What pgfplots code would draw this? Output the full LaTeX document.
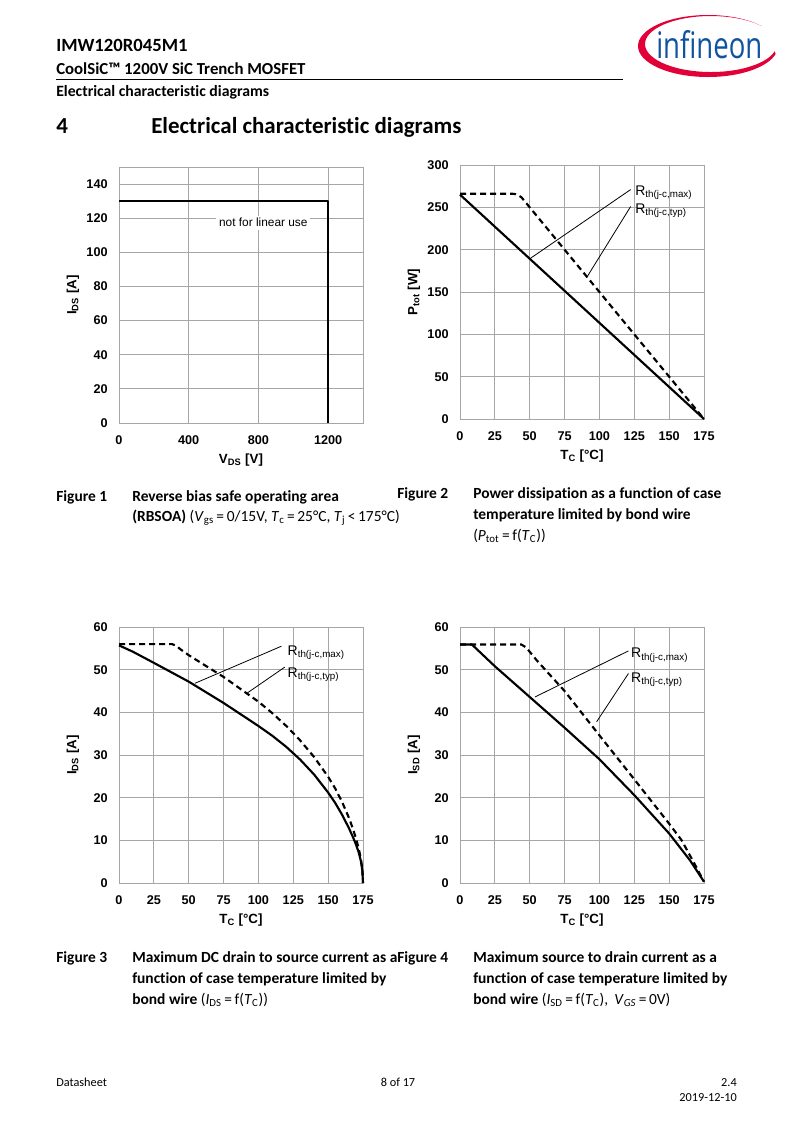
\documentclass[border=0pt]{standalone}
\usepackage{fontspec}
\usepackage{graphicx}
\usepackage{pgfplots}
\pgfplotsset{compat=1.18}
\setmainfont{Carlito}[Ligatures=CommonOff]
\newfontfamily\arial{Liberation Sans}
\newfontfamily\logofont{Open Sans}
\definecolor{gridc}{RGB}{166,166,166}
\definecolor{ifxblue}{RGB}{16,82,160}
\definecolor{ifxred}{RGB}{226,0,56}

\pgfplotsset{ds/.style={
  anchor=north west, scale only axis, width=183pt, height=192pt,
  axis line style={draw=gridc, line width=0.6pt},
  grid=major, major grid style={draw=gridc, line width=0.6pt},
  major tick length=0pt, tick style={draw=none},
  /pgf/number format/assume math mode=true,
  /pgf/number format/1000 sep={},
  ticklabel style={font=\arial\bfseries\fontsize{9.5}{11}\selectfont},
  yticklabel style={xshift=-5pt},
  xticklabel style={yshift=-6pt},
  every axis x label/.style={at={(axis description cs:0.5,0)}, anchor=center,
    yshift=-27.75pt, font=\arial\bfseries\fontsize{10}{12}\selectfont},
  every axis y label/.style={at={(axis description cs:0,0.5)}, anchor=center,
    xshift=-34.5pt, rotate=90, font=\arial\bfseries\fontsize{10}{12}\selectfont},
  clip=false,
}}
\tikzset{
  figcap/.style={anchor=base west, inner sep=0pt, font=\fontsize{11.6}{14}\selectfont},
  rth/.style={anchor=west, inner sep=0pt, font=\arial\fontsize{10.5}{12}\selectfont},
  curve/.style={black, line width=1.6pt, line join=round},
  dcurve/.style={black, line width=1.6pt, line join=round, dash pattern=on 4.5pt off 3pt},
  lead/.style={black, line width=0.6pt},
}

\begin{document}
\begin{tikzpicture}[x=0.75pt, y=-0.75pt]
\path[use as bounding box] (0,0) rectangle (793,1122);

% header
\node[anchor=base west, inner sep=0pt, font=\bfseries\fontsize{14}{16}\selectfont] at (56,51) {IMW120R045M1};
\node[anchor=base west, inner sep=0pt, font=\bfseries\fontsize{12.6}{15}\selectfont] at (56,74) {CoolSiC™ 1200V SiC Trench MOSFET};
\draw[line width=0.6pt] (56,79) -- (623,79);
\node[anchor=base west, inner sep=0pt, font=\bfseries\fontsize{11.8}{14}\selectfont] at (56,96) {Electrical characteristic diagrams};
\node[anchor=base west, inner sep=0pt, font=\bfseries\fontsize{17.2}{20}\selectfont] at (56,133) {4};
\node[anchor=base west, inner sep=0pt, font=\bfseries\fontsize{17.2}{20}\selectfont] at (151,133) {Electrical characteristic diagrams};

% logo
\fill[ifxred] ([shift={(708,46)}]320:70 and 31) arc[start angle=320, end angle=15, x radius=70, y radius=31]
  -- ([shift={(711,44)}]15:66 and 28) arc[start angle=15, end angle=320, x radius=66, y radius=28] -- cycle;
\node[anchor=base west, inner sep=0pt, text=ifxblue] at (656,58) {\resizebox{79.5pt}{21pt}{\logofont infineon}};

% Figure 1
\begin{axis}[ds, at={(89.25pt,-125.25pt)}, height=192pt,
  xmin=0, xmax=1400, ymin=0, ymax=150,
  xtick={0,400,800,1200}, ytick={0,20,...,140},
  xlabel={V\textsubscript{DS} [V]}, ylabel={I\textsubscript{DS} [A]}]
\addplot[curve] coordinates {(0,130) (1200,130) (1200,0)};
\node[fill=white, inner sep=2pt, font=\arial\fontsize{8.9}{10}\selectfont] at (axis cs:828,117.4) {not for linear use};
\end{axis}

% Figure 2
\begin{axis}[ds, at={(345pt,-123.75pt)}, height=190.5pt,
  xmin=0, xmax=175, ymin=0, ymax=300,
  xtick={0,25,...,175}, ytick={0,50,...,300},
  xlabel={T\textsubscript{C} [°C]}, ylabel={P\textsubscript{tot} [W]}]
\addplot[curve] coordinates {(0,265) (175,0)};
\addplot[dcurve] coordinates {(0,266) (38,266) (40,265.5) (42,264) (44,262) (175,0)};
\draw[lead] (axis cs:50.7,190) -- (axis cs:122.4,271);
\draw[lead] (axis cs:90.8,167) -- (axis cs:122.4,251);
\node[rth] at (axis cs:125.5,267) {R\textsubscript{th(j-c,max)}};
\node[rth] at (axis cs:125.5,246) {R\textsubscript{th(j-c,typ)}};
\end{axis}

% Figure 3
\begin{axis}[ds, at={(89.25pt,-470.25pt)}, height=192pt,
  xmin=0, xmax=175, ymin=0, ymax=60,
  xtick={0,25,...,175}, ytick={0,10,...,60},
  xlabel={T\textsubscript{C} [°C]}, ylabel={I\textsubscript{DS} [A]}]
\addplot[curve] coordinates {(0,55.7) (10,54.2) (25,51.6) (50,47.2) (75,42.2) (100,36.8) (110,34.5) (120,31.9) (130,28.9) (140,25.4) (150,21.2) (155,18.8) (160,16.0) (165,12.8) (168,10.6) (170,9.0) (172,7.1) (173.5,5.1) (174.5,3.0) (175,0)};
\addplot[dcurve] coordinates {(0,56) (38,56) (41,55.6) (44,54.8) (50,53.4) (75,48.3) (100,42.5) (110,39.8) (120,36.8) (130,33.4) (140,29.5) (150,24.9) (155,22.2) (160,19.0) (165,15.2) (168,12.5) (170,10.4) (172,8.0) (173.5,5.6) (174.5,3.3) (175,0)};
\draw[lead] (axis cs:54.4,46.8) -- (axis cs:116.5,55.5);
\draw[lead] (axis cs:91.4,44.4) -- (axis cs:118.9,50.6);
\node[rth] at (axis cs:120.8,53.9) {R\textsubscript{th(j-c,max)}};
\node[rth] at (axis cs:120.8,48.9) {R\textsubscript{th(j-c,typ)}};
\end{axis}

% Figure 4
\begin{axis}[ds, at={(345pt,-470.25pt)}, height=192pt,
  xmin=0, xmax=175, ymin=0, ymax=60,
  xtick={0,25,...,175}, ytick={0,10,...,60},
  xlabel={T\textsubscript{C} [°C]}, ylabel={I\textsubscript{SD} [A]}]
\addplot[curve] coordinates {(0,55.9) (8.5,55.9) (25,50.8) (50,43.6) (75,36.4) (100,29.0) (125,20.6) (150,11.6) (165,5.3) (175,0.3)};
\addplot[dcurve] coordinates {(0,55.9) (44,55.9) (47,55.3) (50,54.2) (55,52.2) (75,45.0) (100,34.6) (125,24.3) (150,13.9) (159,10) (165,6.4) (170,3.4) (175,0.3)};
\draw[lead] (axis cs:53.8,43.6) -- (axis cs:120.8,54.4);
\draw[lead] (axis cs:98,37.8) -- (axis cs:120.8,49.1);
\node[rth] at (axis cs:122.6,53.4) {R\textsubscript{th(j-c,max)}};
\node[rth] at (axis cs:122.6,47.7) {R\textsubscript{th(j-c,typ)}};
\end{axis}

% captions
\node[figcap] at (56,501) {\bfseries Figure 1};
\node[figcap] at (132,501) {\bfseries Reverse bias safe operating area};
\node[figcap] at (132,521) {\textbf{(RBSOA)} (\textit{V}\textsubscript{gs}\,=\,0/15V, \textit{T}\textsubscript{c}\,=\,25°C, \textit{T}\textsubscript{j}\,<\,175°C)};
\node[figcap] at (397,498) {\bfseries Figure 2};
\node[figcap] at (473,498) {\bfseries Power dissipation as a function of case};
\node[figcap] at (473,519) {\bfseries temperature limited by bond wire};
\node[figcap] at (473,540) {(\textit{P}\textsubscript{tot}\,=\,f(\textit{T}\textsubscript{C}))};

\node[figcap] at (56,962) {\bfseries Figure 3};
\node[figcap] at (132,962) {\bfseries Maximum DC drain to source current as a};
\node[figcap] at (132,983) {\bfseries function of case temperature limited by};
\node[figcap] at (132,1004) {\textbf{bond wire} (\textit{I}\textsubscript{DS}\,=\,f(\textit{T}\textsubscript{C}))};
\node[figcap] at (397,962) {\bfseries Figure 4};
\node[figcap] at (473,962) {\bfseries Maximum source to drain current as a};
\node[figcap] at (473,983) {\bfseries function of case temperature limited by};
\node[figcap] at (473,1004) {\textbf{bond wire} (\textit{I}\textsubscript{SD}\,=\,f(\textit{T}\textsubscript{C}),\, \textit{V}\textsubscript{\textit{GS}}\,=\,0V)};

% footer
\node[anchor=base west, inner sep=0pt, font=\fontsize{9.2}{11}\selectfont] at (56,1086) {Datasheet};
\node[anchor=base, inner sep=0pt, font=\fontsize{9.2}{11}\selectfont] at (398,1086) {8 of 17};
\node[anchor=base east, inner sep=0pt, font=\fontsize{9.2}{11}\selectfont] at (737,1086) {2.4};
\node[anchor=base east, inner sep=0pt, font=\fontsize{9.2}{11}\selectfont] at (737,1101) {2019-12-10};
\end{tikzpicture}
\end{document}
